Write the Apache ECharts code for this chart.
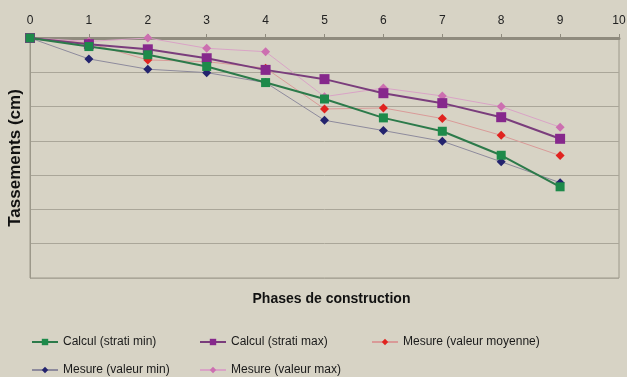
<!DOCTYPE html>
<html>
<head>
<meta charset="utf-8">
<script src="https://cdn.jsdelivr.net/npm/echarts@6/dist/echarts.min.js"></script>
<style>
  html, body { margin: 0; padding: 0; background: #d7d3c5; }
  #chart { width: 627px; height: 377px; }
</style>
</head>
<body>
<div id="chart"></div>
<script>
// Construction phases (x) and settlement values (grid units, downward)
const phases = [0, 1, 2, 3, 4, 5, 6, 7, 8, 9];
const calculStratiMin = [0, 0.25, 0.49, 0.83, 1.30, 1.78, 2.33, 2.72, 3.42, 4.34];
const calculStratiMax = [0, 0.18, 0.33, 0.59, 0.93, 1.20, 1.61, 1.90, 2.31, 2.94];
const mesureMoyenne   = [0, 0.15, 0.64, 0.69, 0.88, 2.07, 2.04, 2.35, 2.84, 3.43];
const mesureMin       = [0, 0.61, 0.91, 1.01, 1.30, 2.40, 2.70, 3.01, 3.61, 4.22];
const mesureMax       = [0, 0.10, 0.00, 0.30, 0.40, 1.71, 1.46, 1.69, 2.00, 2.60];

const pairs = arr => phases.map((p, i) => [p, arr[i]]);

const font = 'Liberation Sans, Arial, sans-serif';

function series(name, data, lineColor, markColor, symbol, size, width) {
  return {
    name, type: 'line', data: pairs(data),
    symbol, symbolSize: size,
    lineStyle: { color: lineColor, width },
    itemStyle: { color: markColor },
    emphasis: { disabled: true },
    animation: false
  };
}

const legendText = { fontFamily: font, fontSize: 12, color: '#1a1a1a' };
function legendItem(name, left, top) {
  return { left, top, itemWidth: 26, itemHeight: 8, textStyle: legendText, data: [name] };
}

const chart = echarts.init(document.getElementById('chart'));
chart.setOption({
  backgroundColor: '#d7d3c5',
  grid: {
    left: 30, right: 8, top: 38, bottom: 99, outerBoundsMode: 'none',
    show: true, borderColor: '#9c988a', borderWidth: 1, backgroundColor: 'transparent'
  },
  xAxis: {
    type: 'value', position: 'top', min: 0, max: 10, interval: 1,
    name: 'Phases de construction', nameLocation: 'middle', nameGap: -268,
    nameTextStyle: { fontFamily: font, fontSize: 14, fontWeight: 'bold', color: '#111', padding: [0, 0, 0, 14] },
    axisLine: { lineStyle: { color: '#8f8b7e', width: 3 } },
    axisTick: { show: true, length: 4, lineStyle: { color: '#8f8b7e' } },
    axisLabel: { fontFamily: font, fontSize: 12, color: '#222', margin: 11 },
    splitLine: { show: false }
  },
  yAxis: {
    type: 'value', inverse: true, min: 0, max: 7, interval: 1,
    name: 'Tassements (cm)', nameLocation: 'middle', nameGap: 6,
    nameTextStyle: { fontFamily: font, fontSize: 17, fontWeight: 'bold', color: '#111' },
    axisLine: { show: true, lineStyle: { color: '#9c988a', width: 1 } },
    axisTick: { show: false },
    axisLabel: { show: false },
    splitLine: { lineStyle: { color: '#aaa699', width: 1 } }
  },
  legend: [
    legendItem('Calcul (strati min)', 26, 331),
    legendItem('Calcul (strati max)', 194, 331),
    legendItem('Mesure (valeur moyenne)', 366, 331),
    legendItem('Mesure (valeur min)', 26, 359),
    legendItem('Mesure (valeur max)', 194, 359)
  ],
  series: [
    series('Mesure (valeur max)', mesureMax, '#d9a3c6', '#cc6fb0', 'diamond', 9, 1),
    series('Mesure (valeur moyenne)', mesureMoyenne, '#d99a98', '#e0231f', 'diamond', 9, 1),
    series('Mesure (valeur min)', mesureMin, '#8d8a9c', '#23236e', 'diamond', 9, 1),
    series('Calcul (strati max)', calculStratiMax, '#7a3d7c', '#86288c', 'rect', 10, 2),
    series('Calcul (strati min)', calculStratiMin, '#2c7a4a', '#1d8a4a', 'rect', 9, 2)
  ]
});
</script>
</body>
</html>
